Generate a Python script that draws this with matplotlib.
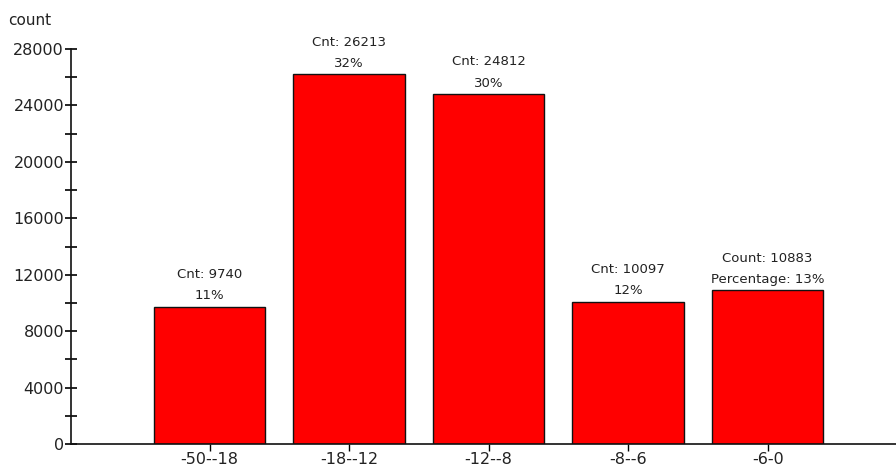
import matplotlib.pyplot as plt
from matplotlib.ticker import MultipleLocator

categories = ['-50--18', '-18--12', '-12--8', '-8--6', '-6-0']
counts = [9740, 26213, 24812, 10097, 10883]
percents = [11, 32, 30, 12, 13]


def plot_counts(categories, counts, percents):
    fig = plt.figure(figsize=(8.96, 4.70), dpi=100)
    ax = fig.add_axes([0.0792, 0.0553, 0.9208, 0.8404])

    xs = range(len(categories))
    ax.bar(xs, counts, width=0.8, color='#ff0000', edgecolor='#111111', linewidth=1.0)

    # value labels above the bars
    for i, (c, p) in enumerate(zip(counts, percents)):
        if i == len(counts) - 1:
            label = 'Count: %d\nPercentage: %d%%' % (c, p)
        else:
            label = 'Cnt: %d\n%d%%' % (c, p)
        ax.annotate(label, (i, c), xytext=(0, 3), textcoords='offset points',
                    ha='center', va='bottom', fontsize=9.5, color='#222222',
                    linespacing=1.85)

    ax.set_xlim(-0.993, 4.92)
    ax.set_ylim(0, 28000)
    ax.set_xticks(list(xs))
    ax.set_xticklabels(categories)
    ax.yaxis.set_major_locator(MultipleLocator(4000))
    ax.yaxis.set_minor_locator(MultipleLocator(2000))

    for side in ['top', 'right']:
        ax.spines[side].set_visible(False)
    for side in ['left', 'bottom']:
        ax.spines[side].set_color('#111111')
        ax.spines[side].set_linewidth(1.2)

    ax.tick_params(axis='y', which='both', direction='inout', length=8,
                   width=1.2, labelsize=11.5, labelcolor='#222222', pad=1)
    ax.tick_params(axis='x', direction='out', length=5, width=1.0,
                   labelsize=11.5, labelcolor='#222222', pad=1)

    fig.text(0.009, 0.957, 'count', fontsize=11, color='#222222', ha='left', va='center')

    fig.savefig('out.png', dpi=100)


if __name__ == "__main__":
    plot_counts(categories, counts, percents)
